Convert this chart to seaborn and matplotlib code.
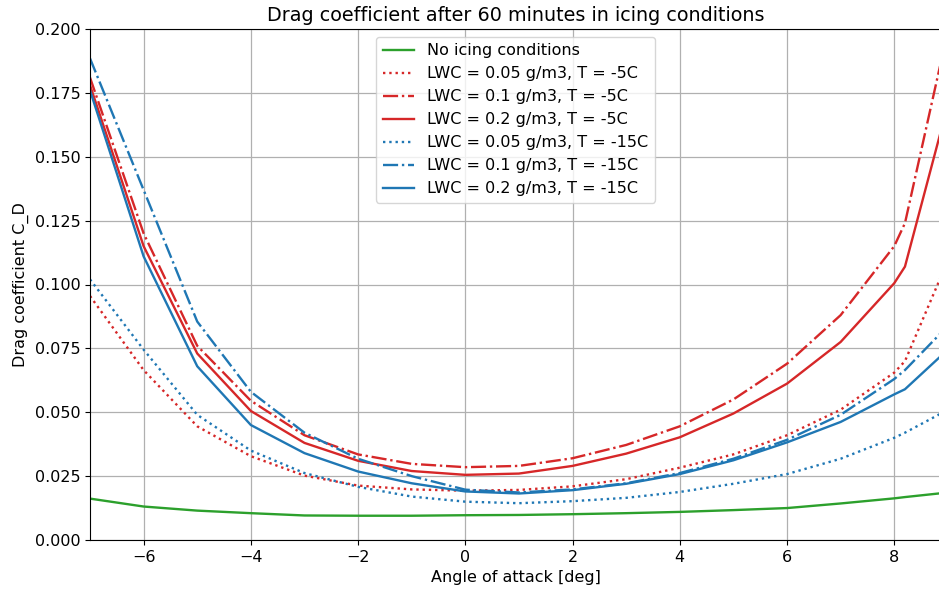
import matplotlib
matplotlib.use("Agg")
import matplotlib.pyplot as plt
import seaborn as sns
import numpy as np

angles = [-7, -6, -5, -4, -3, -2, -1, 0, 1, 2, 3, 4, 5, 6, 7, 8, 8.2, 8.87]

no_icing = [0.0162, 0.0131, 0.0115, 0.0105, 0.0096, 0.0095, 0.0095, 0.0097, 0.0098, 0.0101,
            0.0105, 0.0110, 0.0117, 0.0125, 0.0143, 0.0163, 0.0168, 0.0183]
lwc005_t5 = [0.0955, 0.0665, 0.0445, 0.0328, 0.0252, 0.0213, 0.0198, 0.0193, 0.0196, 0.0210,
             0.0238, 0.0283, 0.0335, 0.0410, 0.0510, 0.0655, 0.0700, 0.1030]
lwc01_t5 = [0.1810, 0.1200, 0.0760, 0.0545, 0.0410, 0.0335, 0.0298, 0.0285, 0.0290, 0.0320,
            0.0372, 0.0445, 0.0550, 0.0690, 0.0880, 0.1150, 0.1240, 0.1870]
lwc02_t5 = [0.1780, 0.1150, 0.0730, 0.0505, 0.0380, 0.0310, 0.0270, 0.0255, 0.0260, 0.0290,
            0.0338, 0.0402, 0.0495, 0.0612, 0.0775, 0.1005, 0.1070, 0.1600]
lwc005_t15 = [0.1020, 0.0745, 0.0490, 0.0350, 0.0262, 0.0208, 0.0170, 0.0150, 0.0144, 0.0152,
              0.0165, 0.0188, 0.0220, 0.0258, 0.0318, 0.0400, 0.0420, 0.0495]
lwc01_t15 = [0.1885, 0.1370, 0.0855, 0.0580, 0.0420, 0.0318, 0.0250, 0.0197, 0.0186, 0.0198,
             0.0222, 0.0262, 0.0318, 0.0392, 0.0490, 0.0630, 0.0665, 0.0810]
lwc02_t15 = [0.1760, 0.1110, 0.0680, 0.0450, 0.0340, 0.0268, 0.0222, 0.0190, 0.0182, 0.0195,
             0.0220, 0.0258, 0.0312, 0.0382, 0.0462, 0.0570, 0.0590, 0.0720]

series = [
    ("No icing conditions", no_icing, "#2ca02c", "-"),
    ("LWC = 0.05 g/m3, T = -5C", lwc005_t5, "#d62728", ":"),
    ("LWC = 0.1 g/m3, T = -5C", lwc01_t5, "#d62728", "-."),
    ("LWC = 0.2 g/m3, T = -5C", lwc02_t5, "#d62728", "-"),
    ("LWC = 0.05 g/m3, T = -15C", lwc005_t15, "#1f77b4", ":"),
    ("LWC = 0.1 g/m3, T = -15C", lwc01_t15, "#1f77b4", "-."),
    ("LWC = 0.2 g/m3, T = -15C", lwc02_t15, "#1f77b4", "-"),
]

fs = 11.5
fig = plt.figure(figsize=(9.39, 5.97), dpi=100)
ax = fig.add_axes([90/939, 1-540/597, 1.0 - 90/939 + 0.002, (540-29)/597])

for label, vals, color, ls in series:
    sns.lineplot(x=angles, y=vals, ax=ax, color=color, linestyle=ls, label=label,
                 linewidth=1.7, sort=False)

ax.set_xlim(-7, 8.87)
ax.set_ylim(0, 0.2)
ax.set_xticks([-6, -4, -2, 0, 2, 4, 6, 8])
ax.set_yticks(np.arange(0, 0.2001, 0.025))
ax.set_yticklabels([f"{v:.3f}" for v in np.arange(0, 0.2001, 0.025)])
ax.grid(True, color="#b0b0b0", linewidth=0.9)
ax.set_axisbelow(True)
ax.set_title("Drag coefficient after 60 minutes in icing conditions", fontsize=13.8)
ax.set_xlabel("Angle of attack [deg]", fontsize=fs)
ax.set_ylabel("Drag coefficient C_D", fontsize=fs)
ax.tick_params(labelsize=fs)
ax.legend(loc="upper center", fontsize=fs)

fig.savefig("out.png", dpi=100)
